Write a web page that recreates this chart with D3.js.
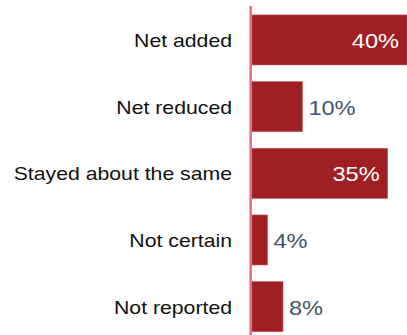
<!DOCTYPE html>
<html>
<head>
<meta charset="utf-8">
<script src="https://cdn.jsdelivr.net/npm/d3@7"></script>
<style>
  html, body { margin: 0; padding: 0; background: #fff; }
  svg { display: block; }
</style>
</head>
<body>
<div id="chart"></div>
<script>
// data
var categories = ["Net added", "Net reduced", "Stayed about the same", "Not certain", "Not reported"];
var values = [40, 13, 35, 4, 8];          // bar lengths as drawn
var valueLabels = ["40%", "10%", "35%", "4%", "8%"];

var width = 407, height = 335;
var stretch = 1.18;   // text in the source is drawn a bit wide

var svg = d3.select("#chart")
    .append("svg")
    .attr("width", width)
    .attr("height", height);

var x = d3.scaleLinear()
    .domain([0, 40])
    .range([252, 407]);

var y = d3.scaleBand()
    .domain(categories)
    .range([6.6, 340])
    .paddingInner(0.25)
    .paddingOuter(0.125);

var rows = categories.map(function(c, i) {
    return {cat: c, value: values[i], label: valueLabels[i]};
});

// bars
svg.selectAll("rect.bar")
    .data(rows)
    .enter()
    .append("rect")
    .attr("class", "bar")
    .attr("x", x(0))
    .attr("y", function(d) { return y(d.cat); })
    .attr("width", function(d) { return x(d.value) - x(0); })
    .attr("height", y.bandwidth())
    .attr("fill", "#9f1f23")
    .attr("stroke", "#c4555b")
    .attr("stroke-width", 0.6);

// axis line
svg.append("line")
    .attr("x1", x(0) - 1.3).attr("x2", x(0) - 1.3)
    .attr("y1", 6).attr("y2", height)
    .attr("stroke", "#e5677a")
    .attr("stroke-width", 2.4);

// category labels
svg.selectAll("text.cat")
    .data(rows)
    .enter()
    .append("text")
    .attr("class", "cat")
    .attr("transform", function(d) {
        return "translate(232," + (y(d.cat) + y.bandwidth() / 2 + 7) + ") scale(" + stretch + ",1)";
    })
    .attr("text-anchor", "end")
    .attr("font-family", "'Liberation Sans', Arial, sans-serif")
    .attr("font-size", 18)
    .attr("fill", "#111")
    .text(function(d) { return d.cat; });

// value labels
svg.selectAll("text.val")
    .data(rows)
    .enter()
    .append("text")
    .attr("class", "val")
    .attr("transform", function(d) {
        var inside = d.value >= 20;
        var px = inside ? x(d.value) - 8 : x(d.value) + 6;
        return "translate(" + px + "," + (y(d.cat) + y.bandwidth() / 2 + 8) + ") scale(" + stretch + ",1)";
    })
    .attr("text-anchor", function(d) { return d.value >= 20 ? "end" : "start"; })
    .attr("font-family", "'Liberation Sans', Arial, sans-serif")
    .attr("font-size", 20)
    .attr("fill", function(d) { return d.value >= 20 ? "#fff" : "#44546a"; })
    .text(function(d) { return d.label; });
</script>
</body>
</html>
